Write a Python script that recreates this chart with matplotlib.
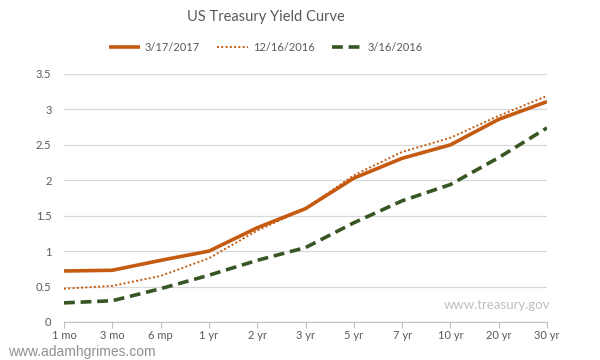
import matplotlib
matplotlib.use("Agg")
import matplotlib.pyplot as plt
import numpy as np

plt.rcParams['font.family'] = ['Lato', 'DejaVu Sans']

maturities = ["1 mo", "3 mo", "6 mp", "1 yr", "2 yr", "3 yr", "5 yr", "7 yr", "10 yr", "20 yr", "30 yr"]
y_2017_03_17 = [0.72, 0.73, 0.87, 1.00, 1.33, 1.60, 2.03, 2.31, 2.50, 2.86, 3.11]
y_2016_12_16 = [0.47, 0.51, 0.65, 0.90, 1.29, 1.60, 2.07, 2.40, 2.60, 2.91, 3.19]
y_2016_03_16 = [0.27, 0.30, 0.47, 0.66, 0.87, 1.05, 1.40, 1.71, 1.94, 2.32, 2.74]
yticks = [0, 0.5, 1, 1.5, 2, 2.5, 3, 3.5]
ytick_labels = ["0", "0.5", "1", "1.5", "2", "2.5", "3", "3.5"]

orange = "#C55A11"
green = "#375623"
grey_text = "#595959"

fig = plt.figure(figsize=(6, 3.6), dpi=100)
ax = fig.add_axes([64 / 600, 38 / 360, 483 / 600, 248 / 360])

x = np.arange(len(maturities))
ax.plot(x, y_2017_03_17, color=orange, lw=2.6, label="3/17/2017", solid_capstyle="butt")
ax.plot(x, y_2016_12_16, color=orange, lw=1.4, ls=(0, (1, 1.2)), label="12/16/2016")
ax.plot(x, y_2016_03_16, color=green, lw=2.6, ls=(0, (3, 1.6)), label="3/16/2016")

ax.set_xlim(0, len(maturities) - 1)
ax.set_ylim(0, 3.5)
ax.set_xticks(x)
ax.set_xticklabels(maturities, fontsize=8, color=grey_text)
ax.set_yticks(yticks)
ax.set_yticklabels(ytick_labels, fontsize=8, color=grey_text)
ax.tick_params(axis="y", length=0, pad=9)
ax.tick_params(axis="x", length=4, color="#BFBFBF", pad=2)
ax.grid(axis="y", color="#D9D9D9", lw=0.9)
ax.set_axisbelow(True)
for s in ["top", "right", "left"]:
    ax.spines[s].set_visible(False)
ax.spines["bottom"].set_color("#BFBFBF")

fig.text(0.443, 0.952, "US Treasury Yield Curve", ha="center", va="center",
         fontsize=10.5, color=grey_text)
fig.legend(loc="center", bbox_to_anchor=(0.443, 0.868), ncol=3, frameon=False,
           fontsize=8, handlelength=2.8, columnspacing=1.6, handletextpad=0.4,
           labelcolor=grey_text)

ax.text(1.006, 0.068, "www.treasury.gov", transform=ax.transAxes, ha="right",
        va="center", fontsize=9.5, color="#BFBFBF")
fig.text(8 / 600, 8 / 360, "www.adamhgrimes.com", ha="left", va="center",
         fontsize=10, color="#909090", family=["Liberation Sans", "DejaVu Sans"])

fig.savefig("out.png", dpi=100)
